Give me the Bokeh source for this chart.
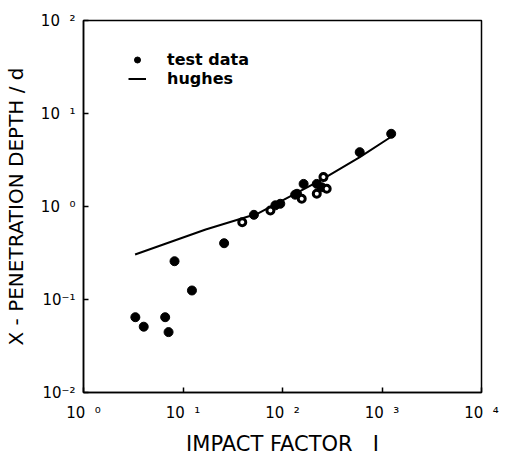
from bokeh.plotting import figure
from bokeh.models import FixedTicker, Legend, LegendItem
from bokeh.embed import file_html
from bokeh.resources import INLINE

# --- data ---
NB = "\u00a0"
x_ticks = [1, 10, 100, 1000, 10000]
x_tick_labels = ["10" + NB + " " + s for s in ["\u2070", "\u00b9", "\u00b2", "\u00b3", "\u2074"]]
y_ticks = [0.01, 0.1, 1, 10, 100]
y_tick_labels = ["10\u207b\u00b2", "10\u207b\u00b9", "10" + NB * 2 + "\u2070", "10" + NB * 2 + "\u00b9", "10" + NB * 2 + "\u00b2"]

test_x = [3.32, 4.03, 6.62, 7.16, 8.22, 12.3, 25.9, 51.6, 84.8, 95, 134, 140, 163, 221, 248, 597, 1237]
test_y = [0.0645, 0.051, 0.0645, 0.0446, 0.258, 0.125, 0.403, 0.814, 1.03, 1.07, 1.34, 1.37, 1.75, 1.75, 1.61, 3.84, 6.05]

ring_x = [39.4, 75.6, 156, 221, 258, 278]
ring_y = [0.678, 0.906, 1.21, 1.37, 2.07, 1.55]

hughes_x = [3.3, 16.9, 55.7, 248, 593, 1205]
hughes_y = [0.305, 0.566, 0.835, 1.95, 3.37, 5.52]

p = figure(width=508, height=458, x_axis_type="log", y_axis_type="log",
           x_range=(1, 1e4), y_range=(0.01, 100),
           output_backend="svg", toolbar_location=None,
           min_border_left=80, min_border_right=27, min_border_top=20, min_border_bottom=66)
p.grid.visible = False
p.outline_line_color = "black"
p.outline_line_width = 1.5

for ax in (p.xaxis[0], p.yaxis[0]):
    ax.axis_line_width = 1.5
    ax.major_tick_in = 5
    ax.major_tick_out = 0
    ax.major_tick_line_width = 1.5
    ax.minor_tick_line_color = None
    ax.major_label_text_font = "DejaVu Sans"
    ax.major_label_text_font_size = "15px"
    ax.major_label_text_color = "black"
    ax.axis_label_text_font = "DejaVu Sans"
    ax.axis_label_text_font_style = "normal"
    ax.axis_label_text_color = "black"

p.xaxis.axis_label_text_font_size = "21px"
p.yaxis.axis_label_text_font_size = "20px"
p.xaxis.ticker = FixedTicker(ticks=x_ticks)
p.yaxis.ticker = FixedTicker(ticks=y_ticks)
p.xaxis.major_label_overrides = {t: l for t, l in zip(x_ticks, x_tick_labels)}
p.yaxis.major_label_overrides = {t: l for t, l in zip(y_ticks, y_tick_labels)}
p.xaxis.major_label_standoff = 11
p.yaxis.major_label_standoff = 8
p.xaxis.axis_label = "IMPACT FACTOR\u00a0\u00a0 I"
p.yaxis.axis_label = "X - PENETRATION DEPTH / d"
p.xaxis.axis_label_standoff = 7
p.yaxis.axis_label_standoff = 10

r_line = p.line(hughes_x, hughes_y, line_color="black", line_width=2)
r_fill = p.scatter(test_x, test_y, marker="circle", size=9, fill_color="black", line_color="black")
p.scatter(ring_x, ring_y, marker="circle", size=7, fill_color="white", line_color="black", line_width=3)

legend = Legend(items=[LegendItem(label="test data", renderers=[r_fill]),
                       LegendItem(label="hughes", renderers=[r_line])],
                location=(45, 304))
legend.border_line_color = None
legend.background_fill_alpha = 0
legend.padding = 0
legend.margin = 0
legend.spacing = -2
legend.glyph_width = 18
legend.glyph_height = 15
legend.label_height = 15
legend.label_standoff = 21
legend.label_text_font = "DejaVu Sans"
legend.label_text_font_size = "16px"
legend.label_text_font_style = "bold"
legend.label_text_color = "black"
p.add_layout(legend)

open("out.html", "w").write(file_html(p, INLINE))
